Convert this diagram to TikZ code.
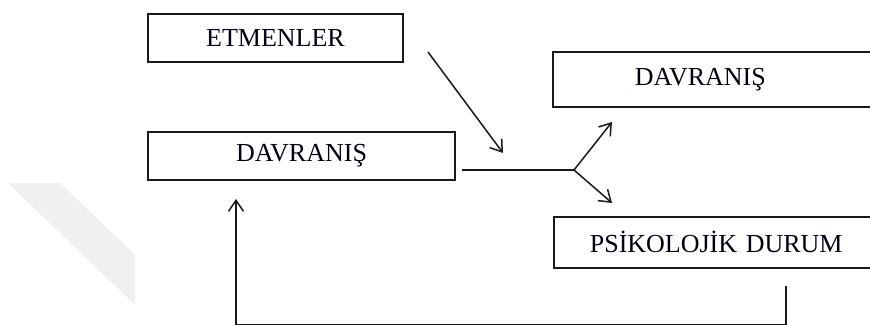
\documentclass[tikz,border=0pt]{standalone}
\usepackage{fontspec}
\setmainfont{Liberation Serif}
\usetikzlibrary{arrows.meta}
\begin{document}
\begin{tikzpicture}[x=1pt,y=-1pt,
  boxc/.style={draw=black!90,line width=1.7pt,rectangle,inner sep=0pt,font=\fontsize{26}{30}\selectfont,text=black!92!blue},
  conn/.style={draw=black!90,line width=1.5pt},
  arr/.style={conn,-{Straight Barb[length=11pt,width=15pt,line width=1.5pt]}}]
\useasboundingbox (0,0) rectangle (870,326);
\clip (0,0) rectangle (870,326);
% watermark shape
\fill[black!6] (10,183) -- (60,183) -- (135,255) -- (135,305) -- (10,185) -- cycle;
% boxes
\node[boxc,minimum width=255pt,minimum height=48pt] (etm) at (275.5,38) {ETMENLER};
\node[boxc,minimum width=307pt,minimum height=48pt] (dav1) at (301.5,156) {DAVRANIŞ};
\node[boxc,anchor=north west,minimum height=55pt,inner xsep=82pt,text width=174pt,align=left] (dav2) at (552,51) {DAVRANIŞ};
\node[boxc,anchor=north west,minimum height=51pt,inner xsep=36pt,text width=265pt,align=left] (psi) at (553,216) {PSİKOLOJİK DURUM};
% coordinates
\coordinate (a1) at (428,52);
\coordinate (a2) at (503,153);
\coordinate (m0) at (462,170);
\coordinate (j) at (574,170);
\coordinate (u) at (612,122);
\coordinate (d) at (612,203);
\coordinate (p0) at (786,286);
\coordinate (p1) at (786,324.5);
\coordinate (q1) at (236,324.5);
\coordinate (q2) at (236,199);
% connectors
\draw[arr] (a1) -- (a2);
\draw[conn] (m0) -- (j);
\draw[arr] (j) -- (u);
\draw[arr] (j) -- (d);
\draw[arr] (p0) -- (p1) -- (q1) -- (q2);
\end{tikzpicture}
\end{document}
